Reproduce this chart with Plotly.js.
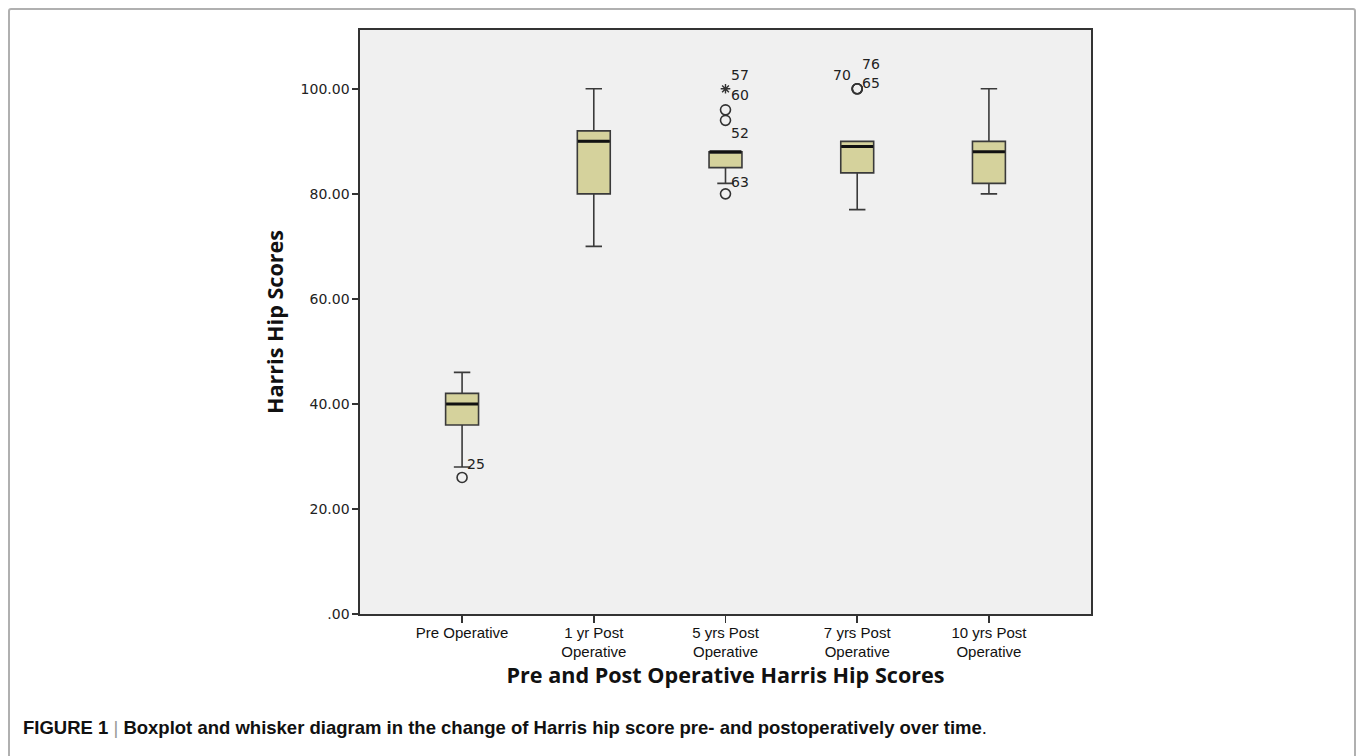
<!DOCTYPE html>
<html>
<head>
<meta charset="utf-8">
<script src="https://cdn.plot.ly/plotly-3.0.1.min.js"></script>
<style>
  html, body { margin: 0; padding: 0; background: #ffffff; }
  #wrap { position: relative; width: 1358px; height: 756px; overflow: hidden; }
  #frame { position: absolute; left: 8px; top: 8px; width: 1348px; height: 780px;
           border: 2px solid #b0b0b0; border-radius: 3px; box-sizing: border-box; pointer-events: none; }
  #chart { position: absolute; left: 0; top: 0; width: 1358px; height: 756px; }
</style>
</head>
<body>
<div id="wrap">
  <div id="chart"></div>
  <div id="frame"></div>
</div>
<script>
// ---- Data ----
const categories = ["Pre Operative", "1 yr Post<br>Operative", "5 yrs Post<br>Operative", "7 yrs Post<br>Operative", "10 yrs Post<br>Operative"];
const lowerWhisker = [28, 70, 82, 77, 80];
const q1Values     = [36, 80, 85, 84, 82];
const medianValues = [40, 90, 88, 89, 88];
const q3Values     = [42, 92, 88, 90, 90];
const upperWhisker = [46, 100, 88, 90, 100];

// outliers (open circles)
const outlierCat    = [0, 2, 2, 2, 3, 3, 3];
const outlierValues = [26, 80, 94, 96, 100, 100, 100];
// extreme values (asterisk)
const extremeCat    = [2];
const extremeValues = [100];

// case labels next to outliers
const labelText  = ["25", "63", "52", "60", "57", "70", "76", "65"];
const labelCat   = [0, 2, 2, 2, 2, 3, 3, 3];
const labelValue = [28.6, 82.2, 91.6, 98.9, 102.7, 102.6, 104.7, 101.2];
const labelSide  = ["right", "right", "right", "right", "right", "left", "right", "right"];

const yTickVals = [0, 20, 40, 60, 80, 100];
const yTickText = [".00", "20.00", "40.00", "60.00", "80.00", "100.00"];

const xTitle = "Pre and Post Operative Harris Hip Scores";
const yTitle = "Harris Hip Scores";
const caption = "<b>FIGURE 1</b> <span style='color:#999'>|</span> <b>Boxplot and whisker diagram in the change of Harris hip score pre- and postoperatively over time</b>.";

// ---- Build ----
const catIdx = categories.map((c, i) => i);
const boxWidth = 0.25;

const boxTrace = {
  type: "box",
  x: catIdx,
  q1: q1Values,
  median: medianValues,
  q3: q3Values,
  lowerfence: lowerWhisker,
  upperfence: upperWhisker,
  width: boxWidth,
  whiskerwidth: 0.5,
  boxpoints: false,
  fillcolor: "#d5d29c",
  line: { color: "#3a3a3a", width: 1.6 },
  hoverinfo: "skip",
  showlegend: false
};

// thick median line
const medX = [], medY = [];
catIdx.forEach(i => {
  medX.push(i - boxWidth / 2 + 0.004, i + boxWidth / 2 - 0.004, null);
  medY.push(medianValues[i], medianValues[i], null);
});
const medianTrace = {
  type: "scatter", mode: "lines", x: medX, y: medY,
  line: { color: "#111111", width: 3 }, hoverinfo: "skip", showlegend: false
};

const outlierTrace = {
  type: "scatter", mode: "markers", x: outlierCat, y: outlierValues,
  marker: { symbol: "circle-open", size: 10, color: "#333333", line: { width: 1.6, color: "#333333" } },
  hoverinfo: "skip", showlegend: false
};
const extremeTrace = {
  type: "scatter", mode: "markers", x: extremeCat, y: extremeValues,
  marker: { symbol: "asterisk-open", size: 8, color: "#333333", line: { width: 1.4, color: "#333333" } },
  hoverinfo: "skip", showlegend: false
};

const annotations = labelText.map((t, k) => ({
  xref: "x", yref: "y",
  x: labelCat[k], y: labelValue[k],
  xshift: labelSide[k] === "right" ? 3 : -4,
  xanchor: labelSide[k] === "right" ? "left" : "right",
  yanchor: "middle",
  text: t, showarrow: false,
  font: { family: "DejaVu Sans, sans-serif", size: 14, color: "#222222" }
}));

// Caption
annotations.push({
  xref: "paper", yref: "paper",
  x: (21 - 360) / 731, y: (614 - 727) / 584,
  xanchor: "left", yanchor: "middle",
  text: caption, showarrow: false,
  font: { family: "Liberation Sans, Arial, sans-serif", size: 18.5, color: "#111111" }
});

const layout = {
  width: 1358, height: 756,
  margin: { l: 360, r: 267, t: 30, b: 142, pad: 0 },
  paper_bgcolor: "rgba(0,0,0,0)",
  plot_bgcolor: "#f0f0f0",
  showlegend: false,
  xaxis: {
    range: [-0.775, 4.775],
    tickvals: catIdx, ticktext: categories,
    ticks: "outside", ticklen: 7, tickwidth: 1.5, tickcolor: "#333333",
    ticklabelstandoff: -3,
    showline: true, mirror: true, linecolor: "#333333", linewidth: 1.6,
    showgrid: false, zeroline: false,
    tickfont: { family: "Liberation Sans Narrow, Arial Narrow, sans-serif", size: 15, color: "#111111" },
    title: { text: xTitle, standoff: 9,
      font: { family: "Open Sans, sans-serif", size: 21.6, color: "#111111", weight: "bold" } }
  },
  yaxis: {
    range: [0, 111.2],
    tickvals: yTickVals, ticktext: yTickText,
    ticks: "outside", ticklen: 6, tickwidth: 1.5, tickcolor: "#333333",
    showline: true, mirror: true, linecolor: "#333333", linewidth: 1.6,
    showgrid: false, zeroline: false,
    tickfont: { family: "DejaVu Sans, sans-serif", size: 14, color: "#222222" },
    title: { text: yTitle, standoff: 11,
      font: { family: "Open Sans, sans-serif", size: 21.6, color: "#111111", weight: "bold" } }
  },
  annotations: annotations
};

Plotly.newPlot("chart", [boxTrace, medianTrace, outlierTrace, extremeTrace], layout, { staticPlot: true, displayModeBar: false });
</script>
</body>
</html>
